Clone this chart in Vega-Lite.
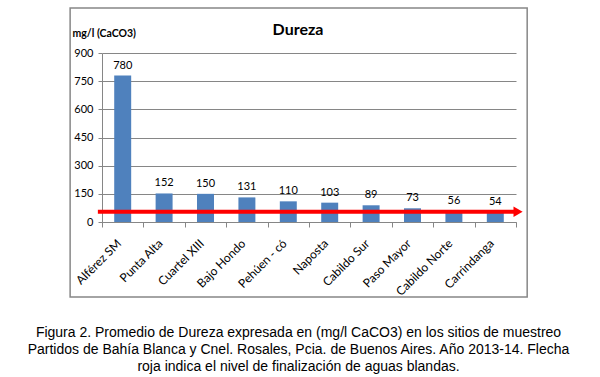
{
  "$schema": "https://vega.github.io/schema/vega-lite/v6.json",
  "width": 414,
  "height": 169,
  "autosize": {"type": "none"},
  "padding": {"left": 102, "top": 53, "right": 84, "bottom": 155},
  "background": "white",
  "config": {"view": {"stroke": null}, "font": "Lato"},
  "title": {
    "text": "Dureza",
    "font": "Lato",
    "fontSize": 16,
    "fontWeight": "bold",
    "color": "#000000",
    "anchor": "middle",
    "frame": "group",
    "dx": -11,
    "dy": 35,
    "offset": 4
  },
  "layer": [
    {
      "data": {"values": [{}]},
      "mark": {"type": "rect", "fill": "transparent", "stroke": "#878787", "strokeWidth": 1.5, "clip": false},
      "encoding": {
        "x": {"datum": -0.077, "type": "quantitative", "scale": {"domain": [0, 1]}, "axis": null},
        "x2": {"datum": 1.027},
        "y": {
          "datum": 1139, "type": "quantitative", "scale": {"domain": [0, 900]},
          "axis": {
            "title": "mg/l (CaCO3)", "titleAngle": 0, "titleAlign": "left", "titleBaseline": "middle",
            "titleX": -30, "titleY": -20, "titleFont": "Lato", "titleFontSize": 10.5, "titleFontWeight": "bold", "titleColor": "#000000",
            "values": [0, 150, 300, 450, 600, 750, 900],
            "labelFont": "Lato", "labelFontSize": 11, "labelColor": "#000000", "labelPadding": 5,
            "tickSize": 4, "tickColor": "#868686", "domainColor": "#868686", "grid": true, "gridColor": "#868686"
          }
        },
        "y2": {"datum": -399}
      }
    },
    {
      "data": {
        "values": [
          {"sitio": "Alférez SM", "dureza": 780},
          {"sitio": "Punta Alta", "dureza": 152},
          {"sitio": "Cuartel XIII", "dureza": 150},
          {"sitio": "Bajo Hondo", "dureza": 131},
          {"sitio": "Pehúen - có", "dureza": 110},
          {"sitio": "Naposta", "dureza": 103},
          {"sitio": "Cabildo Sur", "dureza": 89},
          {"sitio": "Paso Mayor", "dureza": 73},
          {"sitio": "Cabildo Norte", "dureza": 56},
          {"sitio": "Carrindanga", "dureza": 54}
        ]
      },
      "encoding": {
        "x": {
          "field": "sitio",
          "type": "nominal",
          "sort": null,
          "scale": {"paddingInner": 0, "paddingOuter": 0},
          "axis": {
            "title": [
              "Figura 2. Promedio de Dureza expresada en (mg/l CaCO3) en los sitios de muestreo",
              "Partidos de Bahía Blanca y Cnel. Rosales, Pcia. de Buenos Aires. Año 2013-14. Flecha",
              "roja indica el nivel de finalización de aguas blandas."
            ],
            "titleFont": "Liberation Sans",
            "titleFontSize": 14,
            "titleFontWeight": "normal",
            "titleColor": "#000000",
            "titleLineHeight": 17,
            "titleX": 196,
            "titleY": 103,
            "titleAlign": "center",
            "titleBaseline": "top",
            "labelAngle": -45,
            "labelAlign": "right",
            "labelBaseline": "middle",
            "labelFont": "Lato",
            "labelFontSize": 12,
            "labelColor": "#000000",
            "labelPadding": 14,
            "labelOffset": -4,
            "tickBand": "extent",
            "tickSize": 5,
            "tickColor": "#868686",
            "domainColor": "#868686",
            "grid": false
          }
        },
        "y": {
          "field": "dureza",
          "type": "quantitative",
          "scale": {"domain": [0, 900]},
          "axis": {
            "title": "mg/l (CaCO3)", "titleAngle": 0, "titleAlign": "left", "titleBaseline": "middle",
            "titleX": -30, "titleY": -20, "titleFont": "Lato", "titleFontSize": 10.5, "titleFontWeight": "bold", "titleColor": "#000000",
            "values": [0, 150, 300, 450, 600, 750, 900],
            "labelFont": "Lato", "labelFontSize": 11, "labelColor": "#000000", "labelPadding": 5,
            "tickSize": 4, "tickColor": "#868686", "domainColor": "#868686", "grid": true, "gridColor": "#868686"
          }
        }
      },
      "layer": [
        {"mark": {"type": "bar", "color": "#4F81BD", "width": {"band": 0.41}}},
        {
          "mark": {"type": "text", "baseline": "bottom", "dy": -5, "font": "Lato", "fontSize": 11, "color": "#000000"},
          "encoding": {"text": {"field": "dureza", "type": "quantitative"}}
        }
      ]
    },
    {
      "data": {"values": [{"nivel": 55}]},
      "encoding": {
        "y": {
          "field": "nivel", "type": "quantitative", "scale": {"domain": [0, 900]},
          "axis": {
            "title": "mg/l (CaCO3)", "titleAngle": 0, "titleAlign": "left", "titleBaseline": "middle",
            "titleX": -30, "titleY": -20, "titleFont": "Lato", "titleFontSize": 10.5, "titleFontWeight": "bold", "titleColor": "#000000",
            "values": [0, 150, 300, 450, 600, 750, 900],
            "labelFont": "Lato", "labelFontSize": 11, "labelColor": "#000000", "labelPadding": 5,
            "tickSize": 4, "tickColor": "#868686", "domainColor": "#868686", "grid": true, "gridColor": "#868686"
          }
        }
      },
      "layer": [
        {
          "mark": {"type": "rule", "color": "#FF0000", "strokeWidth": 4, "clip": false},
          "encoding": {
            "x": {"datum": -0.01, "type": "quantitative", "scale": {"domain": [0, 1]}, "axis": null},
            "x2": {"datum": 1.0}
          }
        },
        {
          "mark": {"type": "point", "shape": "triangle-right", "filled": true, "color": "#FF0000", "opacity": 1, "size": 110, "clip": false},
          "encoding": {
            "x": {"datum": 1.005, "type": "quantitative", "scale": {"domain": [0, 1]}, "axis": null}
          }
        }
      ]
    }
  ],
  "resolve": {"scale": {"x": "independent"}}
}
